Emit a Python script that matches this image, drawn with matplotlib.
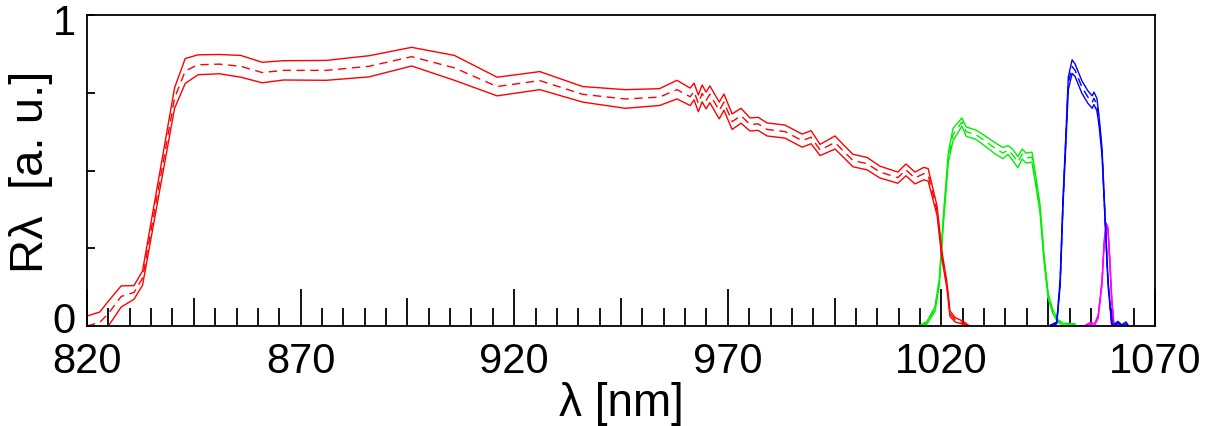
import matplotlib
matplotlib.use("Agg")
import matplotlib.pyplot as plt
import matplotlib.transforms as mtransforms
import numpy as np
from matplotlib.ticker import FixedLocator, FixedFormatter

plt.rcParams['font.family'] = ['Liberation Sans', 'DejaVu Sans']

# ---------------- data ----------------
wl_red = [820, 823, 825, 828, 831, 833, 840.5, 843, 846, 851, 856, 861, 866, 876, 886, 896,
          906, 916, 926, 936, 946, 954, 958.1, 961.2, 962.1, 963.1, 964.0, 964.9, 965.8, 968.0,
          969.1, 971.0, 973.1, 975.2, 977.1, 979.2, 983.4, 987.4, 989.5, 991.6, 995.1, 997.4,
          999.3, 1002.6, 1005.6, 1009.8, 1011.7, 1013.8, 1015.9, 1016.9, 1019.0, 1020.1, 1021.3,
          1022.0, 1023.2, 1025.0, 1026.0, 1026.6]
mean_red = [0.0, 0.012, 0.04, 0.095, 0.108, 0.154, 0.733, 0.82, 0.84, 0.842, 0.835, 0.815, 0.822,
            0.822, 0.835, 0.866, 0.83, 0.77, 0.789, 0.745, 0.73, 0.736, 0.76, 0.737, 0.754, 0.716,
            0.748, 0.725, 0.745, 0.693, 0.72, 0.657, 0.676, 0.648, 0.65, 0.632, 0.625, 0.596,
            0.607, 0.566, 0.59, 0.558, 0.532, 0.522, 0.495, 0.477, 0.502, 0.476, 0.49, 0.486,
            0.37, 0.23, 0.13, 0.04, 0.02, 0.011, 0.003, 0.0]
err_red = [0.032, 0.033, 0.04, 0.034, 0.022, 0.023, 0.033, 0.04, 0.032, 0.031, 0.035, 0.033, 0.031,
           0.032, 0.034, 0.03, 0.04, 0.03, 0.029, 0.025, 0.03, 0.027, 0.03, 0.028, 0.027, 0.027,
           0.027, 0.027, 0.027, 0.027, 0.026, 0.025, 0.024, 0.021, 0.021, 0.021, 0.021, 0.021,
           0.021, 0.018, 0.021, 0.02, 0.02, 0.02, 0.019, 0.018, 0.019, 0.019, 0.02, 0.02,
           0.015, 0.012, 0.01, 0.009, 0.007, 0.005, 0.003, 0.0]

wl_green = [1015.0, 1016.6, 1018.5, 1019.5, 1020.4, 1021.6, 1022.7, 1024.8, 1025.8, 1028.1, 1029.7,
            1031.4, 1032.5, 1034.4, 1035.6, 1036.7, 1037.9, 1038.9, 1039.8, 1041.2, 1042.4,
            1043.1, 1044.0, 1045.0, 1046.1, 1047.3, 1048.5, 1051.3]
mean_green = [0.0, 0.01, 0.055, 0.14, 0.33, 0.54, 0.615, 0.656, 0.625, 0.615, 0.60, 0.583, 0.572,
              0.556, 0.566, 0.55, 0.527, 0.553, 0.54, 0.543, 0.44, 0.376, 0.22, 0.096, 0.045,
              0.016, 0.006, 0.005]
err_green = [0.003, 0.004, 0.008, 0.01, 0.012, 0.015, 0.02, 0.013, 0.015, 0.015, 0.016, 0.017,
             0.018, 0.018, 0.014, 0.018, 0.018, 0.016, 0.016, 0.016, 0.014, 0.012, 0.01, 0.008,
             0.006, 0.004, 0.003, 0.002]

wl_blue = [1045.4, 1047.0, 1047.8, 1048.5, 1049.2, 1049.7, 1050.6, 1051.3, 1052.9, 1054.3, 1055.3,
           1055.7, 1056.4, 1056.9, 1057.6, 1058.3, 1059.0, 1059.9, 1060.6, 1061.3, 1062.2,
           1063.2, 1063.8]
mean_blue = [0.0, 0.01, 0.14, 0.41, 0.62, 0.78, 0.834, 0.822, 0.768, 0.736, 0.72, 0.732, 0.712,
             0.66, 0.56, 0.35, 0.14, 0.0, 0.004, 0.012, 0.002, 0.01, 0.0]
err_blue = [0.002, 0.003, 0.01, 0.012, 0.015, 0.02, 0.022, 0.02, 0.02, 0.02, 0.02, 0.02, 0.02,
            0.015, 0.012, 0.01, 0.008, 0.003, 0.003, 0.003, 0.002, 0.003, 0.0]

wl_mag = [1053.6, 1054.8, 1055.9, 1056.7, 1057.6, 1058.1, 1058.6, 1059.0, 1059.5, 1059.9, 1060.4,
          1061.8]
mean_mag = [0.0, 0.008, 0.006, 0.03, 0.14, 0.27, 0.325, 0.31, 0.19, 0.077, 0.005, 0.0]
err_mag = [0.002, 0.003, 0.003, 0.005, 0.006, 0.006, 0.006, 0.006, 0.006, 0.005, 0.003, 0.0]

x_tick_values = list(range(820, 1071, 25))
x_tick_labels = [str(v) if (v - 820) % 50 == 0 else '' for v in x_tick_values]
y_tick_values = [0, 0.25, 0.5, 0.75, 1]
y_tick_labels = ['0', '', '', '', '1']

# ---------------- figure ----------------
fig = plt.figure(figsize=(12.17, 4.27), dpi=100)
ax = fig.add_axes([87 / 1217, 100 / 427, 1068 / 1217, 311 / 427])

series = [
    (wl_mag, mean_mag, err_mag, '#ff00ff'),
    (wl_green, mean_green, err_green, '#00ee00'),
    (wl_red, mean_red, err_red, '#ff0000'),
    (wl_blue, mean_blue, err_blue, '#0000ff'),
]
for wl, m, e, c in series:
    wl = np.asarray(wl); m = np.asarray(m); e = np.asarray(e)
    ax.plot(wl, m + e, color=c, lw=1.0)
    ax.plot(wl, m, color=c, lw=1.0, ls=(0, (6, 4)))
    ax.plot(wl, m - e, color=c, lw=1.0)

ax.set_xlim(820, 1070)
ax.set_ylim(0, 1)

ax.xaxis.set_major_locator(FixedLocator(x_tick_values))
ax.xaxis.set_major_formatter(FixedFormatter(x_tick_labels))
ax.xaxis.set_minor_locator(FixedLocator(list(range(820, 1071, 5))))
ax.yaxis.set_major_locator(FixedLocator(y_tick_values))
ax.yaxis.set_major_formatter(FixedFormatter(y_tick_labels))

ax.tick_params(axis='x', which='major', direction='in', length=26.6, width=1.3,
               labelsize=30, pad=11, top=False, colors='black')
ax.tick_params(axis='x', which='minor', direction='in', length=13, width=1.3, top=False)
ax.tick_params(axis='y', which='major', direction='in', length=6, width=1.3,
               labelsize=30, pad=8, right=False)

for spine in ax.spines.values():
    spine.set_linewidth(1.3)
    spine.set_color('black')

ax.set_ylabel('Rλ  [a. u.]', fontsize=34)
ax.yaxis.set_label_coords(-0.032, 0.5)
ax.set_xlabel('λ [nm]', fontsize=33)
ax.xaxis.set_label_coords(0.5, -0.287)
ax.xaxis.label.set_verticalalignment('baseline')

fig.canvas.draw()
for tick, v in zip(ax.xaxis.get_major_ticks(), x_tick_values):
    if (v - 820) % 50 != 0:
        tick.tick1line.set_markersize(20)

ylabels = ax.yaxis.get_ticklabels()
ylabels[0].set_transform(ylabels[0].get_transform() +
                         mtransforms.ScaledTranslation(0, 9 / 100, fig.dpi_scale_trans))
ylabels[-1].set_transform(ylabels[-1].get_transform() +
                          mtransforms.ScaledTranslation(0, -4 / 100, fig.dpi_scale_trans))

fig.savefig('out.png', dpi=100)
